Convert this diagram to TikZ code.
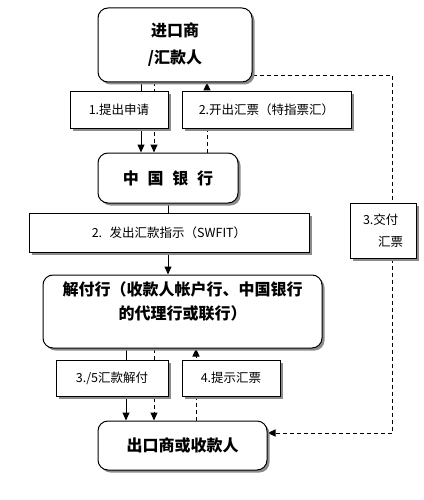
\documentclass[tikz,border=0pt]{standalone}
\usepackage{fontspec}
\newfontfamily\cjk{Noto Sans CJK SC}
\usetikzlibrary{shadows,arrows.meta,backgrounds}
\tikzset{
  base/.style={draw=black, line width=1pt, fill=white, inner sep=0pt,
    drop shadow={shadow xshift=2.5pt, shadow yshift=-2.5pt, fill=gray!90, opacity=1}},
  bigbox/.style={base, rounded corners=10pt, font=\cjk\bfseries\fontsize{16}{27}\selectfont, align=center},
  smallbox/.style={base, font=\cjk\fontsize{12.5}{22}\selectfont, align=center},
  conn/.style={line width=1pt, -{Triangle[width=7pt,length=8pt]}},
  dconn/.style={conn, dash pattern=on 4pt off 3pt},
  dline/.style={line width=1pt, dash pattern=on 4pt off 3pt}
}
\begin{document}
\begin{tikzpicture}[x=1pt,y=-1pt]
\useasboundingbox (0,0) rectangle (423,500);
\node[bigbox, minimum width=154pt, minimum height=74pt] (top) at (175,45) {进口商\\/汇款人};
\node[smallbox, minimum width=98pt, minimum height=36pt] (n1) at (119,110) {1.提出申请};
\node[smallbox, minimum width=169pt, minimum height=36pt] (n2) at (266.5,110) {2.开出汇票（特指票汇）};
\node[bigbox, minimum width=140pt, minimum height=50pt] (boc) at (168,178) {中\hspace{0.55em}国\hspace{0.55em}银\hspace{0.55em}行};
\node[smallbox, minimum width=280pt, minimum height=39pt] (swift) at (169,232.5) {2.\hspace{0.6em}发出汇款指示（SWFIT）};
\node[bigbox, minimum width=279pt, minimum height=73pt, font=\cjk\bfseries\fontsize{16}{24.5}\selectfont] (jfh) at (182.5,311.5) {解付行（收款人帐户行、中国银行\\的代理行或联行）\\[-3pt]};
\node[smallbox, minimum width=112pt, minimum height=36pt] (n35) at (112,378) {3./5汇款解付};
\node[smallbox, minimum width=98pt, minimum height=36pt] (n4) at (231,378) {4.提示汇票};
\node[bigbox, minimum width=169pt, minimum height=49pt] (exp) at (182.5,445.5) {出口商或收款人};
\node[smallbox, minimum width=66pt, minimum height=55pt, align=left] (n3) at (383,230.5) {3.交付\\\hspace*{1.2em}汇票};
\coordinate (a141) at (141,0);
\coordinate (a154) at (154,0);
\coordinate (a207) at (207,0);
\coordinate (a168) at (168,0);
\coordinate (a126) at (126,0);
\coordinate (a196) at (196,0);
\coordinate (r1) at (392,76);
\coordinate (r2) at (392,433);
\begin{scope}[on background layer]
\draw[conn] (top.south -| a141) -- (boc.north -| a141);
\draw[dconn] (top.south -| a154) -- (boc.north -| a154);
\draw[dconn] (boc.north -| a207) -- (top.south -| a207);
\draw[conn] (boc.south -| a168) -- (jfh.north -| a168);
\draw[conn] (jfh.south -| a126) -- (exp.north -| a126);
\draw[dconn] (jfh.south -| a154) -- (exp.north -| a154);
\draw[dconn] (exp.north -| a196) -- (jfh.south -| a196);
\draw[dline] (top.east |- r1) -- (r1) -- (n3.north -| r1);
\draw[dconn] (n3.south -| r1) -- (r2) -- (exp.east |- r2);
\end{scope}
\end{tikzpicture}
\end{document}
